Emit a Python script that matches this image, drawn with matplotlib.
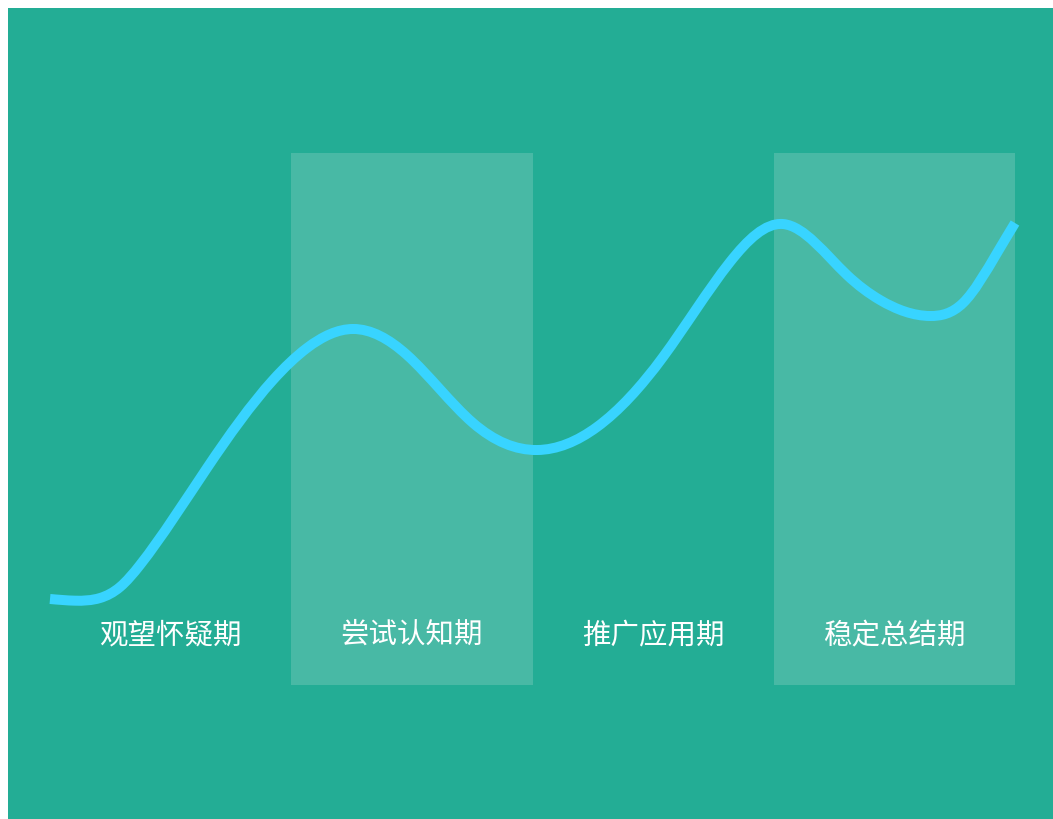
import matplotlib
matplotlib.use("Agg")
import matplotlib.pyplot as plt
import numpy as np
from matplotlib.patches import Rectangle, PathPatch
from matplotlib.path import Path

plt.rcParams['font.family'] = ['Noto Sans CJK SC', 'DejaVu Sans']

# Stages of the adoption curve
stages = ["观望怀疑期", "尝试认知期", "推广应用期", "稳定总结期"]
highlighted = [1, 3]          # indices of stages drawn with a lighter band

# Curve samples: x in stage units (0..4), y on a 0..100 scale
curve_x = [0.0000, 0.1036, 0.2073, 0.2902, 0.3731, 0.6508, 0.9244, 1.0653,
           1.2560, 1.4798, 1.7534, 2.0187, 2.2674, 2.5409, 2.8187, 3.0383,
           3.3036, 3.4404, 3.6477, 3.7845, 3.9254, 4.0000]
curve_y = [16.17, 15.85, 16.35, 18.42, 22.56, 40.79, 57.33, 63.35,
           66.92, 62.03, 49.25, 44.17, 48.50, 61.65, 79.51, 86.65,
           77.07, 72.37, 69.36, 71.80, 81.20, 86.84]
label_y = 9.4

BG = "#23AD95"
BAND = "#48B9A5"
LINE = "#38D4FF"

W, H = 1053, 819
fig = plt.figure(figsize=(W / 100, H / 100), dpi=100)
fig.patch.set_facecolor("white")
fig.patches.append(Rectangle((8 / W, 0), 1 - 8 / W, (H - 8) / H,
                             transform=fig.transFigure, facecolor=BG,
                             edgecolor="none", zorder=-10))

ax = fig.add_axes([50 / W, (H - 685) / H, 965 / W, 532 / H])
ax.set_xlim(0, 4)
ax.set_ylim(0, 100)
ax.axis("off")
ax.patch.set_alpha(0)

for i in highlighted:
    ax.add_patch(Rectangle((i, 0), 1, 100, facecolor=BAND,
                           edgecolor="none", zorder=1))


def spline_path(xs, ys):
    """Natural cubic spline through the samples, written as Bezier segments."""
    x = np.asarray(xs, float)
    y = np.asarray(ys, float)
    n = len(x)
    h = np.diff(x)
    # second derivatives from the tridiagonal system (natural ends)
    A = np.zeros((n, n))
    r = np.zeros(n)
    A[0, 0] = A[-1, -1] = 1.0
    for i in range(1, n - 1):
        A[i, i - 1] = h[i - 1]
        A[i, i] = 2 * (h[i - 1] + h[i])
        A[i, i + 1] = h[i]
        r[i] = 6 * ((y[i + 1] - y[i]) / h[i] - (y[i] - y[i - 1]) / h[i - 1])
    M = np.linalg.solve(A, r)
    # first derivatives at every knot
    m = np.empty(n)
    for i in range(n - 1):
        m[i] = (y[i + 1] - y[i]) / h[i] - h[i] * (2 * M[i] + M[i + 1]) / 6
    m[-1] = (y[-1] - y[-2]) / h[-1] + h[-1] * (M[-2] + 2 * M[-1]) / 6

    verts = [(x[0], y[0])]
    codes = [Path.MOVETO]
    for i in range(n - 1):
        d = h[i] / 3
        verts += [(x[i] + d, y[i] + d * m[i]),
                  (x[i + 1] - d, y[i + 1] - d * m[i + 1]),
                  (x[i + 1], y[i + 1])]
        codes += [Path.CURVE4] * 3
    return Path(verts, codes)


ax.add_patch(PathPatch(spline_path(curve_x, curve_y), facecolor="none",
                       edgecolor=LINE, linewidth=7.2, capstyle="butt",
                       joinstyle="round", zorder=3, clip_on=False))

for i, name in enumerate(stages):
    ax.text(i + 0.5, label_y, name, ha="center", va="center",
            color="white", fontsize=20.5, zorder=4)

fig.savefig("out.png", dpi=100, facecolor=fig.get_facecolor())
